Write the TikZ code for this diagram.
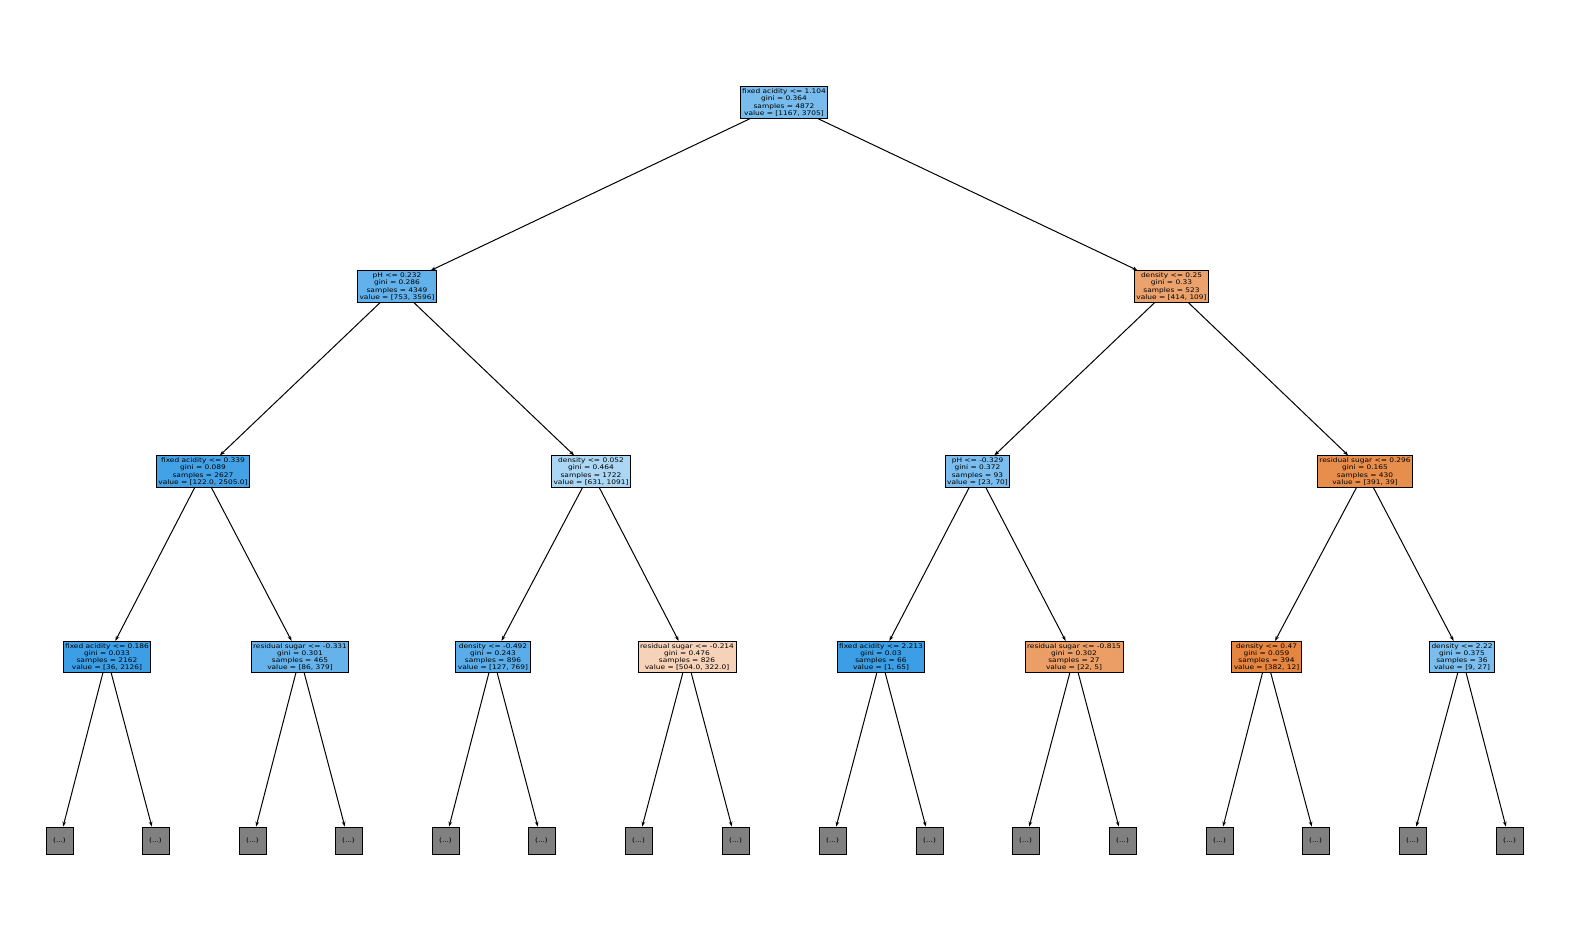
\documentclass[tikz,border=0pt]{standalone}
\usepackage{fontspec}
\newfontfamily\treefont[FakeStretch=1.18]{DejaVu Sans}
\usetikzlibrary{arrows.meta}
\definecolor{tblue}{HTML}{399DE5}
\definecolor{torange}{HTML}{E58139}
\definecolor{leafgray}{HTML}{808080}
\begin{document}
\begin{tikzpicture}[x=1pt,y=-1pt,
  tn/.style={draw=black, line width=0.9pt, font=\treefont\fontsize{6.3}{7.3}\selectfont, align=center, inner xsep=2pt, inner ysep=1.9pt},
  lf/.style={draw=black, line width=0.9pt, fill=leafgray, minimum width=27pt, minimum height=27pt, inner sep=0pt, font=\treefont\fontsize{6.2}{7.3}\selectfont},
  ed/.style={draw=black, line width=1pt, -{Stealth[length=5pt,width=3.6pt]}}]
\useasboundingbox (0,0) rectangle (1570,944);
% level 0
\node[tn, fill=tblue!68.5!white] (r) at (784,102.5) {fixed acidity <= 1.104\\gini = 0.364\\samples = 4872\\value = [1167, 3705]};
% level 1
\node[tn, fill=tblue!79.1!white] (a) at (397,286.5) {pH <= 0.232\\gini = 0.286\\samples = 4349\\value = [753, 3596]};
\node[tn, fill=torange!73.7!white] (b) at (1171.5,286.5) {density <= 0.25\\gini = 0.33\\samples = 523\\value = [414, 109]};
% level 2
\node[tn, fill=tblue!95.1!white] (aa) at (203,471.5) {fixed acidity <= 0.339\\gini = 0.089\\samples = 2627\\value = [122.0, 2505.0]};
\node[tn, fill=tblue!42.2!white] (ab) at (591,471.5) {density <= 0.052\\gini = 0.464\\samples = 1722\\value = [631, 1091]};
\node[tn, fill=tblue!67.1!white] (ba) at (977.5,471.5) {pH <= -0.329\\gini = 0.372\\samples = 93\\value = [23, 70]};
\node[tn, fill=torange!90!white] (bb) at (1365,471.5) {residual sugar <= 0.296\\gini = 0.165\\samples = 430\\value = [391, 39]};
% level 3
\node[tn, fill=tblue!98.3!white] (aaa) at (107,657) {fixed acidity <= 0.186\\gini = 0.033\\samples = 2162\\value = [36, 2126]};
\node[tn, fill=tblue!77.3!white] (aab) at (300,657) {residual sugar <= -0.331\\gini = 0.301\\samples = 465\\value = [86, 379]};
\node[tn, fill=tblue!83.5!white] (aba) at (493,657) {density <= -0.492\\gini = 0.243\\samples = 896\\value = [127, 769]};
\node[tn, fill=torange!36.1!white] (abb) at (687,657) {residual sugar <= -0.214\\gini = 0.476\\samples = 826\\value = [504.0, 322.0]};
\node[tn, fill=tblue!98.5!white] (baa) at (881,657) {fixed acidity <= 2.213\\gini = 0.03\\samples = 66\\value = [1, 65]};
\node[tn, fill=torange!77.3!white] (bab) at (1074,657) {residual sugar <= -0.815\\gini = 0.302\\samples = 27\\value = [22, 5]};
\node[tn, fill=torange!96.9!white] (bba) at (1266.5,657) {density <= 0.47\\gini = 0.059\\samples = 394\\value = [382, 12]};
\node[tn, fill=tblue!66.7!white] (bbb) at (1462,657) {density <= 2.22\\gini = 0.375\\samples = 36\\value = [9, 27]};
% leaves
\node[lf] (l1) at (59.5,840.5) {(...)};
\node[lf] (l2) at (155.5,840.5) {(...)};
\node[lf] (l3) at (252.5,840.5) {(...)};
\node[lf] (l4) at (348.5,840.5) {(...)};
\node[lf] (l5) at (445.5,840.5) {(...)};
\node[lf] (l6) at (541.5,840.5) {(...)};
\node[lf] (l7) at (638.5,840.5) {(...)};
\node[lf] (l8) at (735.5,840.5) {(...)};
\node[lf] (l9) at (832.5,840.5) {(...)};
\node[lf] (l10) at (929.5,840.5) {(...)};
\node[lf] (l11) at (1025.5,840.5) {(...)};
\node[lf] (l12) at (1122.5,840.5) {(...)};
\node[lf] (l13) at (1219.5,840.5) {(...)};
\node[lf] (l14) at (1315.5,840.5) {(...)};
\node[lf] (l15) at (1412.5,840.5) {(...)};
\node[lf] (l16) at (1509.5,840.5) {(...)};
% edges
\draw[ed] (r) -- (a);
\draw[ed] (r) -- (b);
\draw[ed] (a) -- (aa);
\draw[ed] (a) -- (ab);
\draw[ed] (b) -- (ba);
\draw[ed] (b) -- (bb);
\draw[ed] (aa) -- (aaa);
\draw[ed] (aa) -- (aab);
\draw[ed] (ab) -- (aba);
\draw[ed] (ab) -- (abb);
\draw[ed] (ba) -- (baa);
\draw[ed] (ba) -- (bab);
\draw[ed] (bb) -- (bba);
\draw[ed] (bb) -- (bbb);
\draw[ed] (aaa) -- (l1);
\draw[ed] (aaa) -- (l2);
\draw[ed] (aab) -- (l3);
\draw[ed] (aab) -- (l4);
\draw[ed] (aba) -- (l5);
\draw[ed] (aba) -- (l6);
\draw[ed] (abb) -- (l7);
\draw[ed] (abb) -- (l8);
\draw[ed] (baa) -- (l9);
\draw[ed] (baa) -- (l10);
\draw[ed] (bab) -- (l11);
\draw[ed] (bab) -- (l12);
\draw[ed] (bba) -- (l13);
\draw[ed] (bba) -- (l14);
\draw[ed] (bbb) -- (l15);
\draw[ed] (bbb) -- (l16);
\end{tikzpicture}
\end{document}
